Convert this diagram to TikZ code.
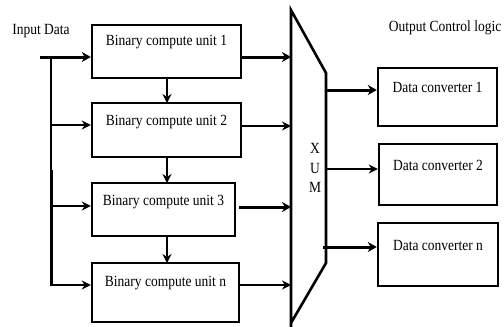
\documentclass[tikz,border=0pt]{standalone}
\usepackage{fontspec}
\setmainfont{Liberation Serif}
\usetikzlibrary{arrows.meta}
\begin{document}
\begin{tikzpicture}[x=1pt,y=-1pt,
  every node/.style={font=\fontsize{13.5}{16}\selectfont},
  blk/.style={draw,line width=2.4pt,rectangle,inner sep=0pt},
  conn/.style={line width=2pt,-{Stealth[length=9pt,width=9pt]}},
  thick conn/.style={line width=3pt,-{Stealth[length=9pt,width=10pt]}},
  plain/.style={line width=2.2pt}]
\useasboundingbox (0,0) rectangle (504,327);
% compute units
\node[blk,minimum width=149pt,minimum height=53pt,label={[anchor=center,yshift=-18pt,yscale=1.15]north:Binary compute unit 1}] (b1) at (166.5,51.5) {};
\node[blk,minimum width=149pt,minimum height=54pt,label={[anchor=center,yshift=-20pt,yscale=1.15]north:Binary compute unit 2}] (b2) at (166.5,130) {};
\node[blk,minimum width=143pt,minimum height=53pt,label={[anchor=center,yshift=-20pt,yscale=1.15]north:Binary compute unit 3}] (b3) at (163.5,209.5) {};
\node[blk,minimum width=147pt,minimum height=59pt,label={[anchor=center,yshift=-21pt,yscale=1.15]north:Binary compute unit n}] (bn) at (165.5,292.5) {};
% converters
\node[blk,minimum width=119pt,minimum height=58pt,label={[anchor=center,yshift=-21pt,yscale=1.15]north:Data converter 1}] (c1) at (437.5,97) {};
\node[blk,minimum width=118pt,minimum height=61pt,label={[anchor=center,yshift=-23pt,yscale=1.15]north:Data converter 2}] (c2) at (438,174.5) {};
\node[blk,minimum width=120pt,minimum height=63pt,label={[anchor=center,yshift=-24pt,yscale=1.15]north:Data converter n}] (cn) at (438,254.5) {};
% texts
\node[yscale=1.15] (tin) at (41,31) {Input Data};
\node[yscale=1.15] (tout) at (445,28) {Output Control logic};
\node[yscale=1.15] (mx) at (315,148) {X};
\node[yscale=1.15] (mu) at (315,168) {U};
\node[yscale=1.15] (mm) at (315,187) {M};
% mux shape
\coordinate (mt) at (291,10);
\coordinate (mb) at (291,327);
\draw[line width=2.6pt,line join=miter] (mb) -- (mt) -- (326,73) -- (326,263) -- (291,323);
% input lines
\coordinate (in) at (40,57);
\coordinate (j1) at (51,57);
\coordinate (j2) at (51,125);
\coordinate (j3) at (51,206);
\coordinate (j4) at (51,285);
\draw[thick conn] (in) -- (in -| b1.west);
\draw[line width=2pt] (j1) -- (51,172);
\draw[line width=3pt] (51,170) -- (j4);
\draw[conn] ([xshift=-1pt]j2) -- (j2 -| b2.west);
\draw[conn] ([xshift=-1pt]j3) -- (j3 -| b3.west);
\draw[conn] ([xshift=-1.4pt]j4) -- (j4 -| bn.west);
% vertical arrows between units
\draw[conn] (167,78) -- (167,103);
\draw[conn] (167,157) -- (167,183);
\draw[conn] (167,236) -- (167,263);
% to mux
\coordinate (ml1) at (291,57);
\coordinate (ml2) at (291,126);
\coordinate (ml3) at (291,207);
\coordinate (ml4) at (291,285);
\draw[thick conn] (ml1 -| b1.east) -- (ml1);
\draw[conn] (ml2 -| b2.east) -- (ml2);
\draw[thick conn] (239,207) -- (ml3);
\draw[conn] (ml4 -| bn.east) -- (ml4);
% mux outputs
\coordinate (mr1) at (326,90);
\coordinate (mr2) at (326,169);
\coordinate (mr3) at (323,247);
\draw[thick conn] (mr1) -- (mr1 -| c1.west);
\draw[conn] (mr2) -- (mr2 -| c2.west);
\draw[thick conn] (mr3) -- (mr3 -| cn.west);
\end{tikzpicture}
\end{document}
